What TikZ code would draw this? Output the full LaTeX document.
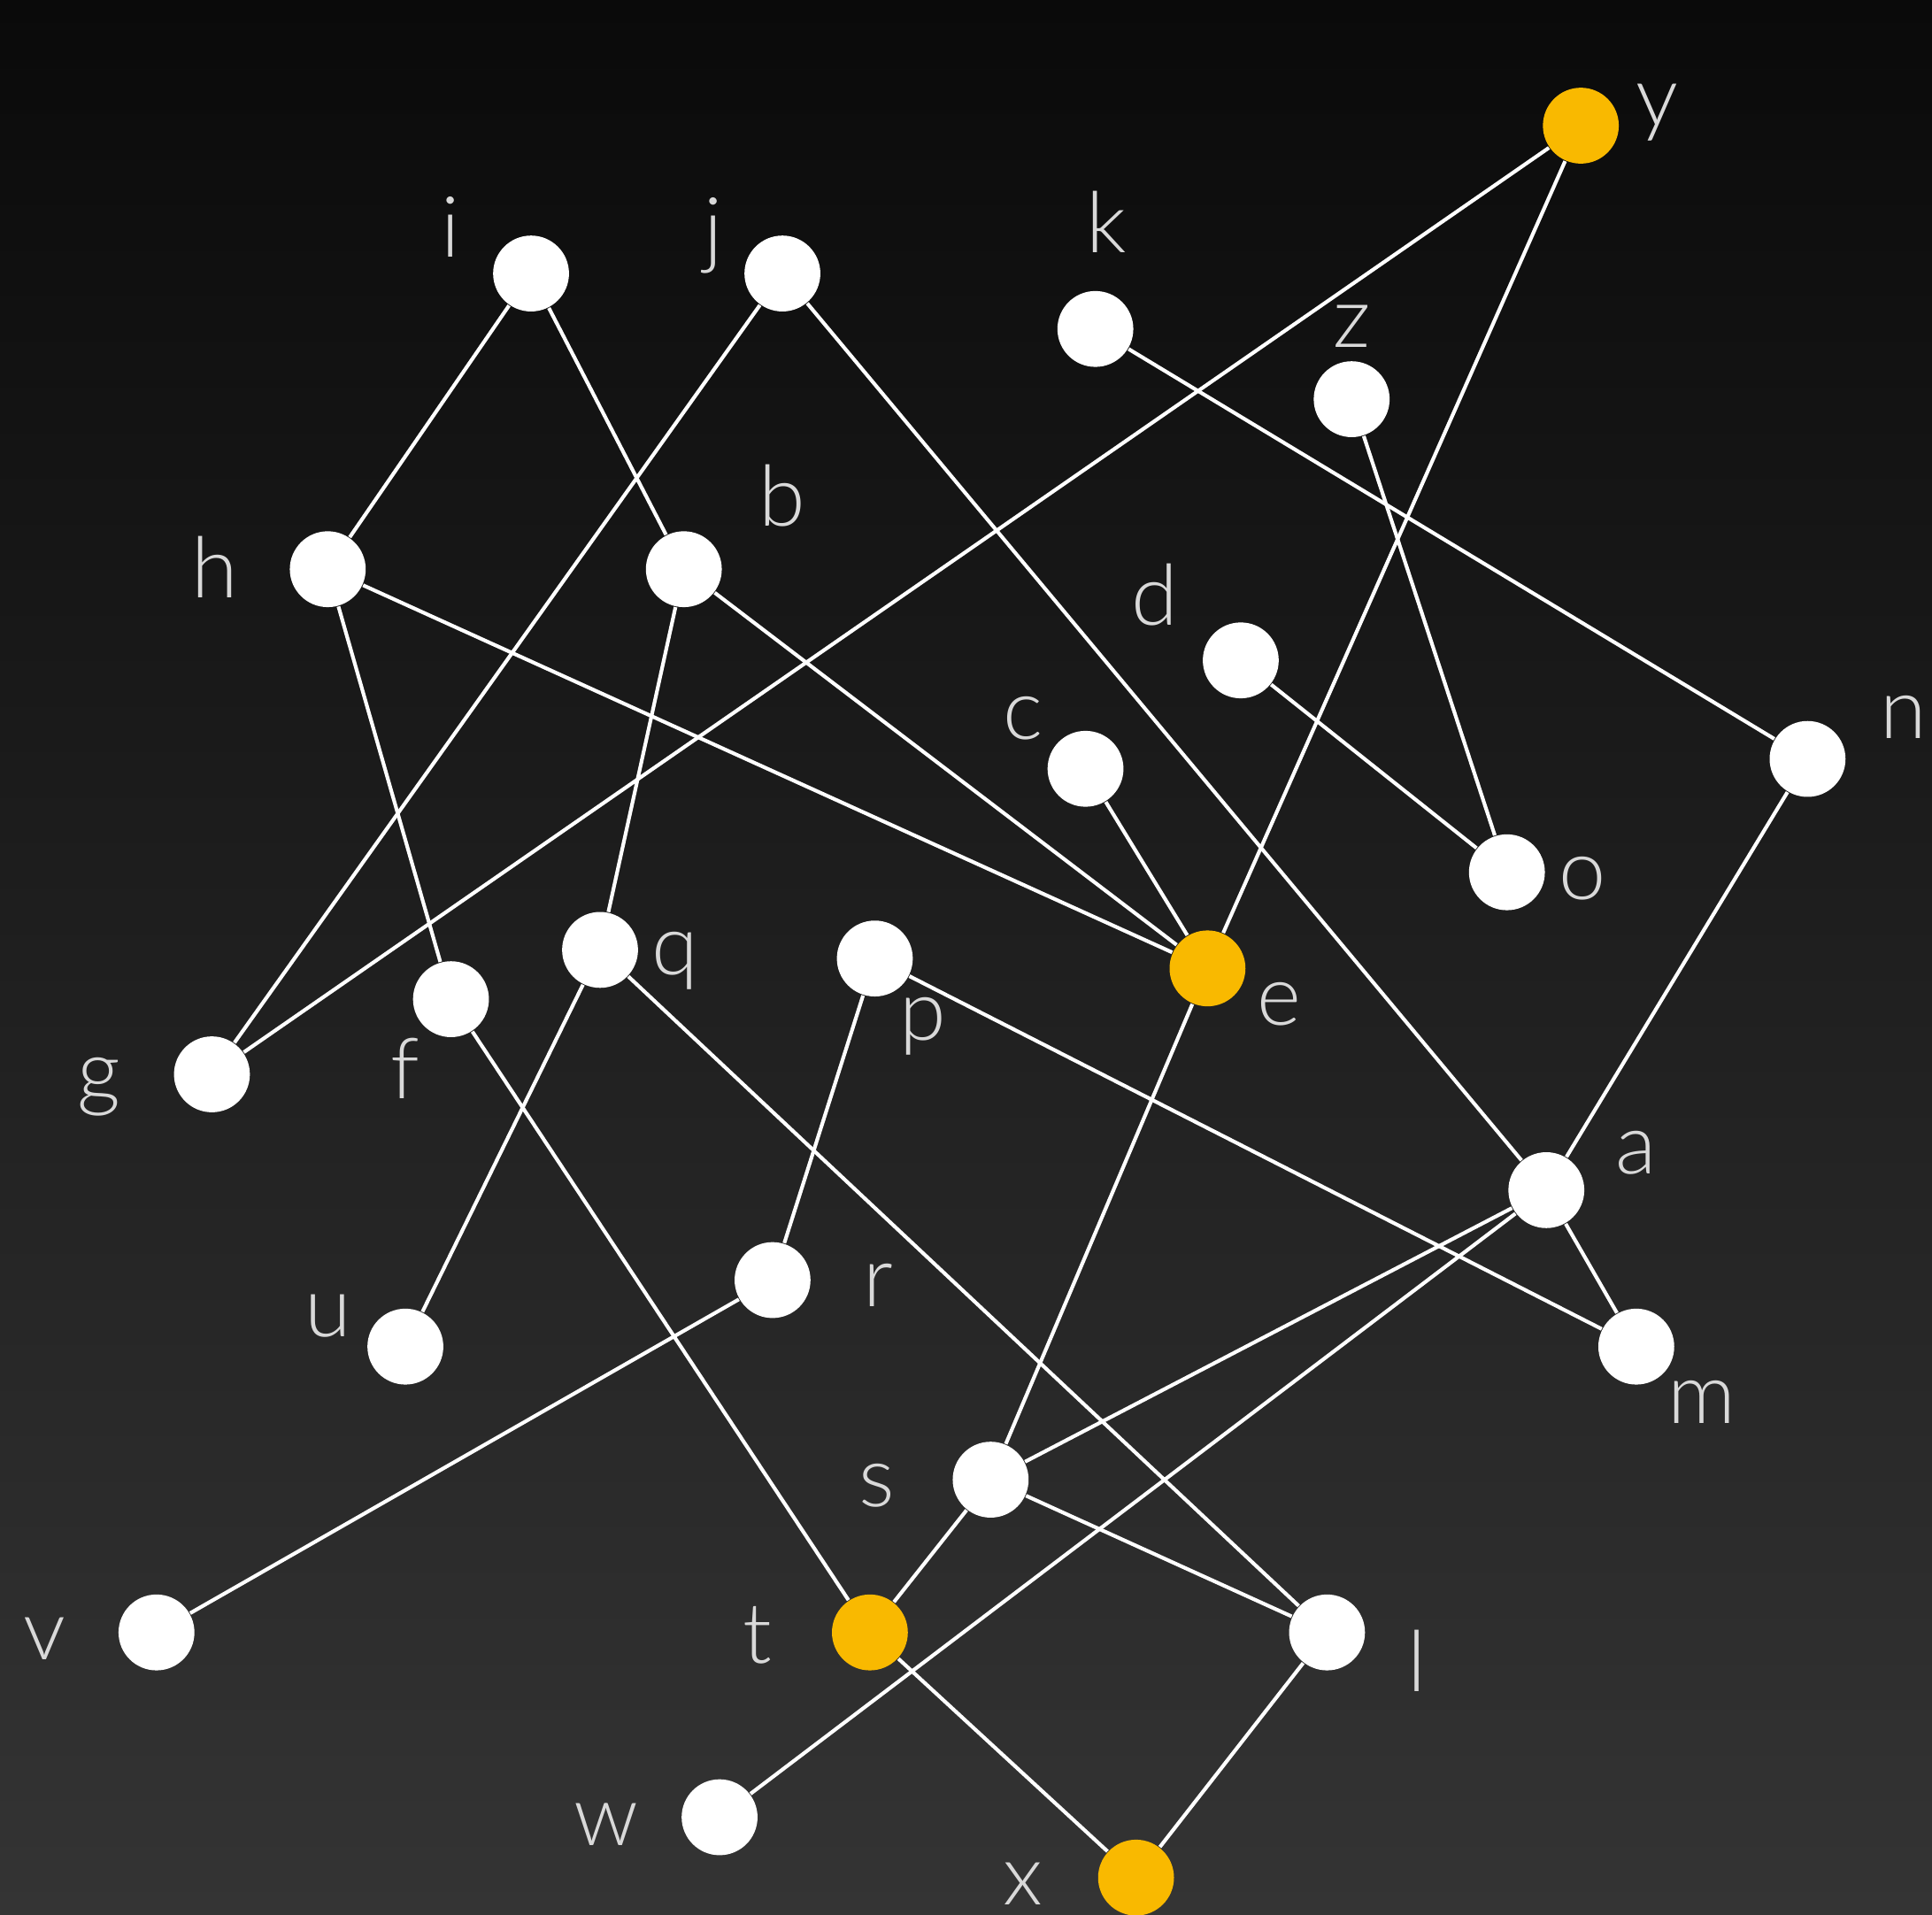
\documentclass[tikz,border=0pt]{standalone}
\usepackage{fontspec}
\setmainfont{Lato}[UprightFont=* Light]
\usepackage{tikz}
\definecolor{bgtop}{RGB}{10, 10, 10}
\definecolor{bgbot}{RGB}{52, 52, 52}
\definecolor{markcol}{RGB}{249, 185, 0}
\definecolor{labelcol}{RGB}{217, 217, 217}
\pgfdeclarelayer{back}
\pgfdeclarelayer{edges}
\pgfsetlayers{back,edges,main}

\begin{document}
\begin{tikzpicture}[
        x=0.1mm, y=-0.1mm,
        vertex/.style={circle, fill=white, inner sep=0pt, minimum size=6.16mm},
        marked/.style={vertex, fill=markcol},
        lbl/.style={inner sep=0pt, text=labelcol, font=\fontsize{19.5}{20}\selectfont},
        edge/.style={draw=white, line width=0.85pt}
    ]

    % Background
    \begin{pgfonlayer}{back}
    \shade[top color=bgtop, bottom color=bgbot] (0,0) rectangle (1568,1554);
    \end{pgfonlayer}
    \useasboundingbox (0,0) rectangle (1568,1554);

    % Vertices
    \node[marked] (y) at (1283,102) {};
    \node[vertex] (i) at (431,222) {};
    \node[vertex] (j) at (635,222) {};
    \node[vertex] (k) at (889,267) {};
    \node[vertex] (z) at (1097,324) {};
    \node[vertex] (h) at (266,462) {};
    \node[vertex] (b) at (555,462) {};
    \node[vertex] (d) at (1007,536) {};
    \node[vertex] (c) at (881,624) {};
    \node[vertex] (n) at (1467,616) {};
    \node[vertex] (o) at (1223,708) {};
    \node[marked] (e) at (980,786) {};
    \node[vertex] (q) at (487,771) {};
    \node[vertex] (p) at (710,778) {};
    \node[vertex] (f) at (366,811) {};
    \node[vertex] (g) at (172,872) {};
    \node[vertex] (a) at (1255,966) {};
    \node[vertex] (r) at (627,1039) {};
    \node[vertex] (u) at (329,1093) {};
    \node[vertex] (m) at (1328,1093) {};
    \node[vertex] (s) at (804,1201) {};
    \node[vertex] (v) at (127,1325) {};
    \node[marked] (t) at (706,1325) {};
    \node[vertex] (l) at (1077,1325) {};
    \node[vertex] (w) at (584,1475) {};
    \node[marked] (x) at (922,1524) {};

    % Labels
    \node[lbl] (y-lbl) at (1345,91) {y};
    \node[lbl] (i-lbl) at (366,184) {i};
    \node[lbl] (j-lbl) at (579,191) {j};
    \node[lbl] (k-lbl) at (898,180) {k};
    \node[lbl] (z-lbl) at (1097,265) {z};
    \node[lbl] (h-lbl) at (174,460) {h};
    \node[lbl] (b-lbl) at (635,402) {b};
    \node[lbl] (d-lbl) at (937,483) {d};
    \node[lbl] (c-lbl) at (830,583) {c};
    \node[lbl] (n-lbl) at (1545,582) {n};
    \node[lbl] (o-lbl) at (1284,713) {o};
    \node[lbl] (e-lbl) at (1038,815) {e};
    \node[lbl] (q-lbl) at (548,780) {q};
    \node[lbl] (p-lbl) at (749,833) {p};
    \node[lbl] (f-lbl) at (329,867) {f};
    \node[lbl] (g-lbl) at (80,882) {g};
    \node[lbl] (a-lbl) at (1328,936) {a};
    \node[lbl] (r-lbl) at (713,1043) {r};
    \node[lbl] (u-lbl) at (266,1068) {u};
    \node[lbl] (m-lbl) at (1381,1138) {m};
    \node[lbl] (s-lbl) at (712,1206) {s};
    \node[lbl] (v-lbl) at (36,1330) {v};
    \node[lbl] (t-lbl) at (615,1327) {t};
    \node[lbl] (l-lbl) at (1150,1348) {l};
    \node[lbl] (w-lbl) at (492,1481) {w};
    \node[lbl] (x-lbl) at (830,1529) {x};

    % Edges
    \begin{pgfonlayer}{edges}
    \draw[edge] (i) -- (h);
    \draw[edge] (i) -- (b);
    \draw[edge] (j) -- (g);
    \draw[edge] (j) -- (a);
    \draw[edge] (k) -- (n);
    \draw[edge] (y) -- (g);
    \draw[edge] (y) -- (e);
    \draw[edge] (z) -- (o);
    \draw[edge] (h) -- (e);
    \draw[edge] (h) -- (f);
    \draw[edge] (b) -- (e);
    \draw[edge] (b) -- (q);
    \draw[edge] (d) -- (o);
    \draw[edge] (c) -- (e);
    \draw[edge] (n) -- (a);
    \draw[edge] (e) -- (s);
    \draw[edge] (q) -- (u);
    \draw[edge] (q) -- (l);
    \draw[edge] (p) -- (r);
    \draw[edge] (p) -- (m);
    \draw[edge] (f) -- (t);
    \draw[edge] (a) -- (m);
    \draw[edge] (a) -- (s);
    \draw[edge] (a) -- (w);
    \draw[edge] (r) -- (v);
    \draw[edge] (s) -- (t);
    \draw[edge] (s) -- (l);
    \draw[edge] (t) -- (x);
    \draw[edge] (l) -- (x);
    \end{pgfonlayer}

\end{tikzpicture}
\end{document}
